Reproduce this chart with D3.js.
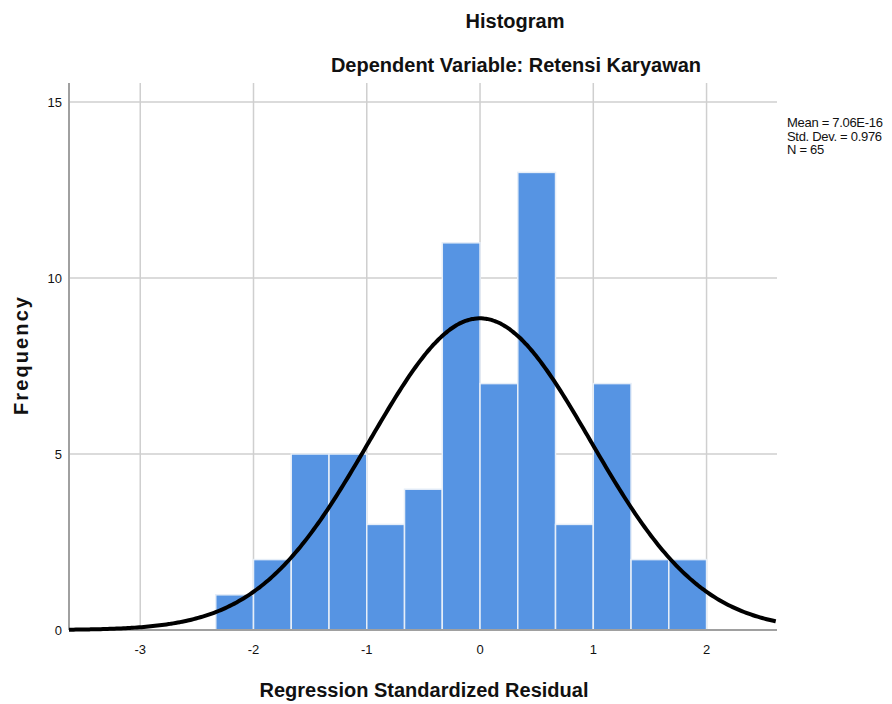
<!DOCTYPE html>
<html>
<head>
<meta charset="utf-8">
<script src="https://cdn.jsdelivr.net/npm/d3@7"></script>
<style>
  body { margin: 0; background: #fff; }
  text { font-family: "Liberation Sans", Arial, sans-serif; fill: #111; }
</style>
</head>
<body>
<div id="chart"></div>
<script>
// histogram bins (lower edges), width 1/3
var binStarts = [-7, -6, -5, -4, -3, -2, -1, 0, 1, 2, 3, 4, 5].map(function (k) { return k / 3; });
var binWidth = 1 / 3;
var counts = [1, 2, 5, 5, 3, 4, 11, 7, 13, 3, 7, 2, 2];
var xTicks = [-3, -2, -1, 0, 1, 2];
var yTicks = [0, 5, 10, 15];
var stats = { mean: 7.06e-16, sd: 0.976, n: 65 };
var statLabels = ['Mean = 7.06E-16', 'Std. Dev. = 0.976', 'N = 65'];

var width = 892, height = 704,
    plot = { left: 69, right: 777, top: 83, bottom: 630 };

var svg = d3.select('#chart').append('svg')
            .attr('width', width)
            .attr('height', height);

var x = d3.scaleLinear().domain([-3.629, 2.622]).range([plot.left, plot.right]);
var y = d3.scaleLinear().domain([0, 15]).range([plot.bottom, 102]);

// grid
svg.append('g').selectAll('line').data(xTicks).enter()
   .append('line')
   .attr('x1', function (d) { return x(d); })
   .attr('x2', function (d) { return x(d); })
   .attr('y1', plot.top).attr('y2', plot.bottom)
   .attr('stroke', '#cfcfcf').attr('stroke-width', 1.5);

svg.append('g').selectAll('line').data(yTicks.slice(1)).enter()
   .append('line')
   .attr('x1', plot.left).attr('x2', plot.right)
   .attr('y1', function (d) { return y(d); })
   .attr('y2', function (d) { return y(d); })
   .attr('stroke', '#cfcfcf').attr('stroke-width', 1.5);

// bars
svg.append('g').selectAll('rect').data(counts).enter()
   .append('rect')
   .attr('x', function (d, i) { return x(binStarts[i]); })
   .attr('width', function (d, i) { return x(binStarts[i] + binWidth) - x(binStarts[i]); })
   .attr('y', function (d) { return y(d); })
   .attr('height', function (d) { return y(0) - y(d); })
   .attr('fill', '#5694e3')
   .attr('stroke', '#e6eef8')
   .attr('stroke-width', 1.5);

// axes lines
svg.append('line')
   .attr('x1', plot.left).attr('x2', plot.left)
   .attr('y1', plot.top).attr('y2', plot.bottom)
   .attr('stroke', '#a0a0a0').attr('stroke-width', 2);
svg.append('line')
   .attr('x1', plot.left).attr('x2', plot.right)
   .attr('y1', plot.bottom).attr('y2', plot.bottom)
   .attr('stroke', '#a0a0a0').attr('stroke-width', 2);

// normal curve
var scale = stats.n * binWidth / (stats.sd * Math.sqrt(2 * Math.PI));
var curveX = d3.range(-3.629, 2.6221, 0.02);
var line = d3.line()
             .x(function (d) { return x(d); })
             .y(function (d) {
                 var z = (d - stats.mean) / stats.sd;
                 return y(scale * Math.exp(-0.5 * z * z));
             })
             .curve(d3.curveBasis);

svg.append('path')
   .datum(curveX)
   .attr('d', line)
   .attr('fill', 'none')
   .attr('stroke', '#000')
   .attr('stroke-width', 4);

// tick labels
svg.append('g').selectAll('text').data(xTicks).enter()
   .append('text')
   .attr('x', function (d) { return x(d); })
   .attr('y', 654)
   .attr('text-anchor', 'middle')
   .attr('font-size', 13)
   .text(function (d) { return d; });

svg.append('g').selectAll('text').data(yTicks).enter()
   .append('text')
   .attr('x', 62)
   .attr('y', function (d) { return y(d) + 5; })
   .attr('text-anchor', 'end')
   .attr('font-size', 13)
   .text(function (d) { return d; });

// titles
svg.append('text')
   .attr('x', 515).attr('y', 28)
   .attr('text-anchor', 'middle')
   .attr('font-size', 20)
   .attr('font-weight', 'bold')
   .text('Histogram');

svg.append('text')
   .attr('x', 516).attr('y', 72)
   .attr('text-anchor', 'middle')
   .attr('font-size', 20)
   .attr('font-weight', 'bold')
   .text('Dependent Variable: Retensi Karyawan');

svg.append('text')
   .attr('x', 424).attr('y', 697)
   .attr('text-anchor', 'middle')
   .attr('font-size', 20)
   .attr('font-weight', 'bold')
   .text('Regression Standardized Residual');

svg.append('text')
   .attr('transform', 'translate(28,356) rotate(-90)')
   .attr('text-anchor', 'middle')
   .attr('font-size', 20)
   .attr('font-weight', 'bold')
   .attr('textLength', 118)
   .attr('lengthAdjust', 'spacing')
   .text('Frequency');

// stats legend
svg.append('g').selectAll('text').data(statLabels).enter()
   .append('text')
   .attr('x', 787)
   .attr('y', function (d, i) { return 127 + i * 13.5; })
   .attr('font-size', 13)
   .attr('letter-spacing', -0.3)
   .text(function (d) { return d; });
</script>
</body>
</html>
